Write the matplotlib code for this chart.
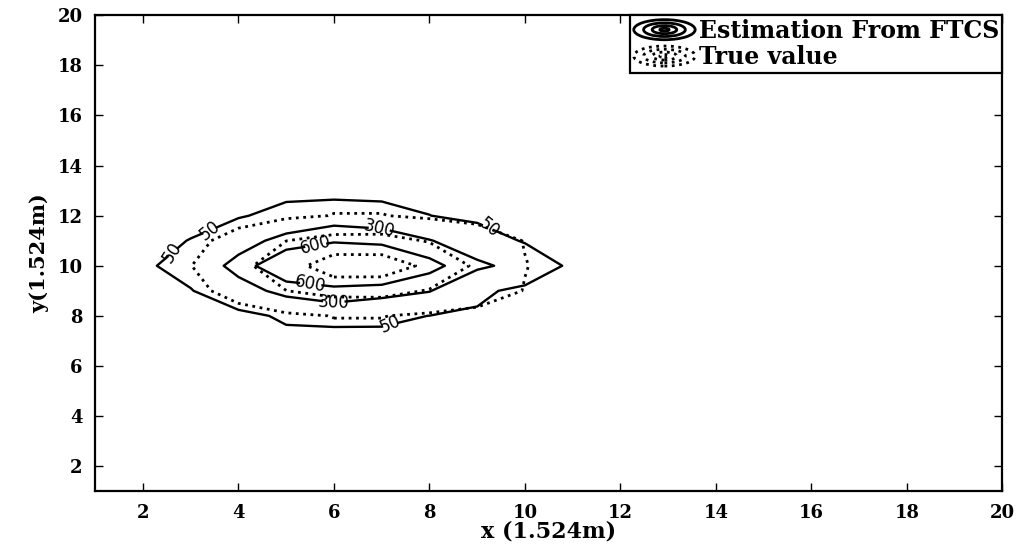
import matplotlib
matplotlib.use('Agg')
import matplotlib.pyplot as plt
import numpy as np
from matplotlib.legend_handler import HandlerBase
from matplotlib.patches import Ellipse
from matplotlib.lines import Line2D

plt.rcParams.update({'font.family': 'DejaVu Serif', 'font.weight': 'bold', 'font.size': 13})

# grid nodes (units of 1.524 m)
xs = [1, 2, 3, 4, 5, 6, 7, 8, 9, 10, 11, 12]
ys = [7, 8, 9, 10, 11, 12, 13]

# estimation from FTCS, rows follow ys
est = [
    [0, 0,   0,   0,   0,    0,    0,   0,   0,   0, 0, 0],
    [0, 0,   0,   0,  78,   90,   88,  48,  26,   0, 0, 0],
    [0, 0,  40, 208, 366,  486,  387, 310,  90,   0, 0, 0],
    [0, 16, 133, 375, 998, 1156, 1274, 724, 340, 227, 0, 0],
    [0, 0,  55, 205, 376,  558,  472, 311, 173,  30, 0, 0],
    [0, 0,   0,  33, 110,  128,  115,  52,   0,   0, 0, 0],
    [0, 0,   0,   0,   0,    6,    0,   0,   0,   0, 0, 0],
]

# true value, rows follow ys
true = [
    [0, 0,  0,   0,   0,   0,   0,   0,   0,  0, 0, 0],
    [0, 0,  0,  10,  16,  55,  55,  18,  10,  0, 0, 0],
    [0, 0, 20,  90, 298, 380, 385, 283, 125, 45, 0, 0],
    [0, 0, 46, 226, 464, 780, 770, 531, 253, 54, 0, 0],
    [0, 0, 20,  90, 298, 380, 385, 283, 125, 45, 0, 0],
    [0, 0,  0,  10,  16,  55,  55,  18,  10,  0, 0, 0],
    [0, 0,  0,   0,   0,   0,   0,   0,   0,  0, 0, 0],
]

levels = [50, 300, 600]
label_spots = [(2.6, 10.55), (3.4, 11.4), (9.2, 11.45), (7.2, 7.6),
               (6.95, 11.45), (6.0, 8.55), (5.65, 10.7), (5.5, 9.2)]


class HandlerRings(HandlerBase):
    def __init__(self, ls):
        super().__init__()
        self.ls = ls

    def create_artists(self, legend, orig_handle, xd, yd, w, h, fontsize, trans):
        cx, cy = -xd + w / 2, -yd + h / 2
        arts = []
        for f in [1.0, 0.68, 0.4, 0.15]:
            e = Ellipse((cx, cy), w * f, h * 0.95 * f, fill=False, ec='k',
                        lw=2.0, ls=self.ls, transform=trans)
            arts.append(e)
        return arts


fig = plt.figure(figsize=(10.24, 5.44), dpi=100)
ax = fig.add_axes([0.093, 0.097, 0.886, 0.875])

cs = ax.contour(xs, ys, est, levels=levels, colors='k', linestyles='solid', linewidths=1.7)
ax.contour(xs, ys, true, levels=levels, colors='k', linestyles='dotted', linewidths=2.0)

with plt.rc_context({'font.family': 'DejaVu Sans', 'font.weight': 'normal'}):
    ax.clabel(cs, fmt='%d', fontsize=12, manual=label_spots, inline=True, inline_spacing=3)

ax.set_xlim(1, 20)
ax.set_ylim(1, 20)
ax.set_xticks(np.arange(2, 21, 2))
ax.set_yticks(np.arange(2, 21, 2))
ax.tick_params(direction='in', top=True, right=True, length=6, width=1, labelsize=13, pad=9)
for s in ax.spines.values():
    s.set_linewidth(1.6)

ax.set_xlabel('x (1.524m)', fontsize=16, fontweight='bold', labelpad=-1)
ax.set_ylabel('y(1.524m)', fontsize=15, fontweight='bold', labelpad=6)

h1 = Line2D([], [], color='k')
h2 = Line2D([], [], color='k', ls=':')
leg = ax.legend([h1, h2], ['Estimation From FTCS', 'True value'], loc='upper right',
                borderaxespad=0, fancybox=False, edgecolor='k', framealpha=1,
                prop={'size': 17, 'weight': 'bold'}, handlelength=2.6, handleheight=1.0,
                handletextpad=0.15, borderpad=0.15, labelspacing=0.1,
                handler_map={h1: HandlerRings('-'), h2: HandlerRings(':')})
leg.get_frame().set_linewidth(1.6)

fig.savefig('out.png', dpi=100)
